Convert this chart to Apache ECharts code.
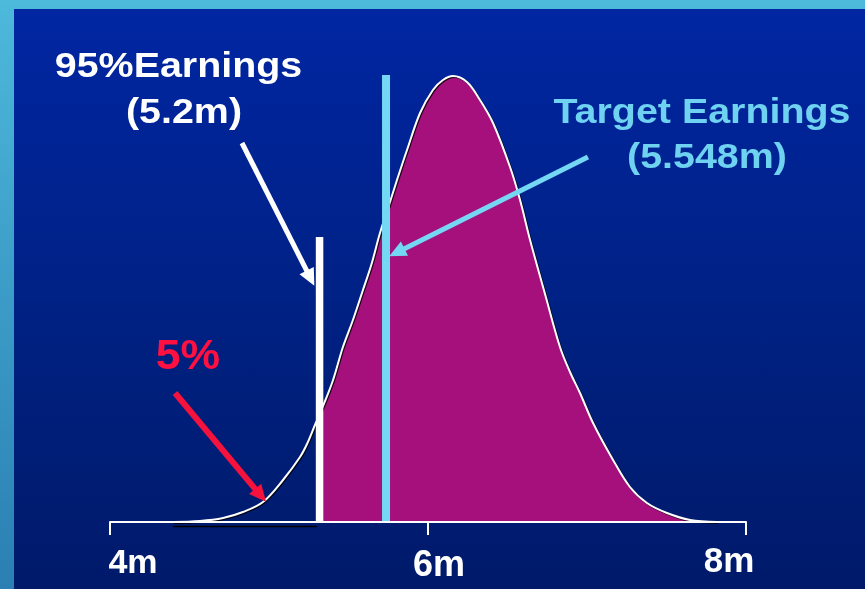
<!DOCTYPE html>
<html>
<head>
<meta charset="utf-8">
<script src="https://cdn.jsdelivr.net/npm/echarts@6/dist/echarts.min.js"></script>
<style>
html,body{margin:0;padding:0;width:865px;height:589px;overflow:hidden;}
#frame{position:absolute;left:0;top:0;width:865px;height:589px;background:linear-gradient(to bottom,#4db9db,#2a7fb3);}
#inner{position:absolute;left:14px;top:9px;width:851px;height:580px;background:linear-gradient(to bottom,#0026a2,#00207f 60%,#001a6a);}
#chart{position:absolute;left:0;top:0;width:865px;height:589px;}
</style>
</head>
<body>
<div id="frame"></div>
<div id="inner"></div>
<div id="chart"></div>
<script>
// Earnings values (millions) along the curve, and the relative density height
const curveX = [4.396,4.566,4.711,4.836,4.962,5.088,5.195,5.239,5.289,5.340,5.403,5.465,5.528,5.591,5.645,5.698,5.761,5.803,5.868,5.950,6.031,6.094,6.157,6.245,6.327,6.409,6.516,6.579,6.642,6.736,6.830,6.893,6.956,7.038,7.164,7.270,7.377,7.503,7.648,7.818];
const curveY = [0,1,4,10,20,42,65,78,97,116,142,175,202,232,258,289,320,341,372,409,432,442,446,440,422,399,355,322,282,228,175,150,129,99,62,35,19,9,2,0];

// Reference lines
const var95X = 5.318;   // 95% earnings line
const var95Top = 285;
const var95StartY = 107;
const targetX = 5.736;  // target earnings line
const targetTop = 447;

// Axis ticks
const tickValues = [4, 6, 8];
const tickLabels = ['4m', '6m', '8m'];

// Annotation arrows [x, y] in data units
const arrowStarts = [[4.830,379],[7.006,365],[4.409,129]];
const arrowEnds   = [[5.261,243.9],[5.804,269.5],[4.947,26.7]];
const arrowColors = ['#ffffff','#74d7f3','#f5123c'];
const arrowWidths = [5,5,6];

// Shadow under left tail baseline
const shadowX = [4.396, 5.30];

const curve = curveX.map((x,i)=>[x,curveY[i]]);
const fill = [[var95X, var95StartY]].concat(curve.filter(p=>p[0]>var95X));

const chart = echarts.init(document.getElementById('chart'), null, {renderer:'canvas'});
const FONT = '"Liberation Sans", Arial, Helvetica, sans-serif';

function txt(text, x, y, size, color, sx){
  return {type:'text', x:x, y:y, scaleX:sx, z:100,
    style:{text:text, fill:color, font:'bold '+size+'px '+FONT, align:'center', verticalAlign:'middle'}};
}

chart.setOption({
  animation:false,
  backgroundColor:'transparent',
  grid:{left:110, right:119, top:72, bottom:67},
  xAxis:{
    type:'value', min:4, max:8, interval:2, z:5,
    splitLine:{show:false},
    axisLine:{show:true, lineStyle:{color:'#ffffff', width:2}},
    axisTick:{show:true, length:13, lineStyle:{color:'#ffffff', width:2}},
    axisLabel:{
      margin:25,
      formatter:function(v){const i=tickValues.indexOf(v);return i<0?'':'{t'+i+'|'+tickLabels[i]+'}';},
      rich:{
        t0:{fontSize:34, fontWeight:'bold', fontFamily:FONT, color:'#fff', lineHeight:34, padding:[2,0,2,46]},
        t1:{fontSize:36, fontWeight:'bold', fontFamily:FONT, color:'#fff', lineHeight:34, padding:[4,0,0,22]},
        t2:{fontSize:35, fontWeight:'bold', fontFamily:FONT, color:'#fff', lineHeight:34, padding:[0,34,4,0]}
      }
    }
  },
  yAxis:{type:'value', min:0, max:450, show:false, splitLine:{show:false}},
  series:[
    {
      type:'line', data:fill, smooth:0.35, symbol:'none', z:2,
      lineStyle:{width:0, color:'#a5107c'},
      areaStyle:{color:'#a5107c', opacity:1}
    },
    {
      type:'line', data:shadowX.map(x=>[x,-4.5]), symbol:'none', clip:false, z:2,
      lineStyle:{color:'#000000', width:1.5}
    },
    {
      type:'line', data:curve, smooth:0.35, symbol:'none', z:3, clip:false,
      lineStyle:{color:'#ffffff', width:2, shadowColor:'rgba(0,0,0,0.8)', shadowOffsetX:1, shadowOffsetY:1, shadowBlur:0}
    },
    {
      type:'line', data:[[var95X,0],[var95X,var95Top]], symbol:'none', z:4,
      lineStyle:{color:'#ffffff', width:7.5, cap:'butt'}
    },
    {
      type:'line', data:[[targetX,0],[targetX,targetTop]], symbol:'none', z:4,
      lineStyle:{color:'#74d7f3', width:8, cap:'butt'}
    },
    {
      type:'line', data:[], symbol:'none', z:6,
      markLine:{
        silent:true, animation:false, symbol:['none','triangle'], symbolSize:[16,17],
        label:{show:false}, emphasis:{disabled:true},
        data: arrowStarts.map((s,i)=>[
          {coord:s, lineStyle:{color:arrowColors[i], width:arrowWidths[i], type:'solid'}, itemStyle:{color:arrowColors[i]}},
          {coord:arrowEnds[i], itemStyle:{color:arrowColors[i]}}
        ])
      }
    }
  ],
  graphic:[
    txt('95%Earnings', 178.5, 67.5, 35.5, '#ffffff', 1.11),
    txt('(5.2m)', 184, 113, 35.5, '#ffffff', 1.11),
    txt('Target Earnings', 702, 113.5, 35.5, '#6fd2f0', 1.11),
    txt('(5.548m)', 707, 158.5, 35.5, '#6fd2f0', 1.11),
    txt('5%', 188, 357.5, 42, '#ff1040', 1.06)
  ]
});
</script>
</body>
</html>
